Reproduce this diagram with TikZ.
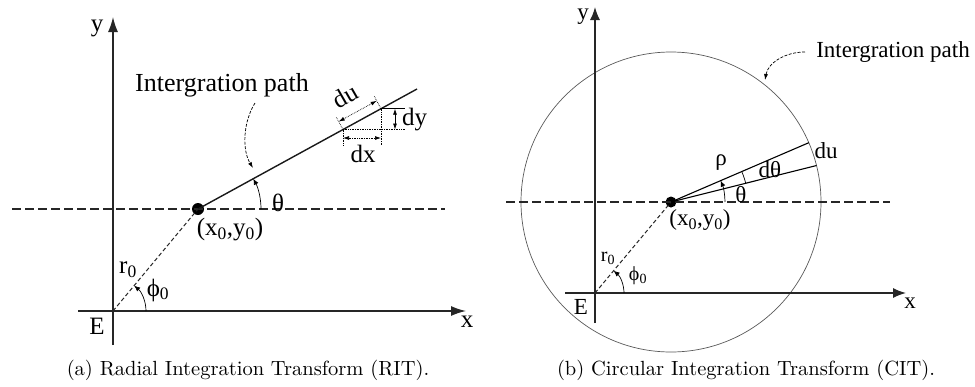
\documentclass[tikz,border=0pt]{standalone}
\usepackage{fontspec}
\newfontfamily\lab{Liberation Serif}
\usetikzlibrary{arrows.meta,calc}
\begin{document}
\begin{tikzpicture}[x=1pt,y=-1pt,
  ax/.style={line width=1.4pt, draw=black!85, -{Latex[length=15pt,width=10pt]}},
  hd/.style={line width=1.1pt, dash pattern=on 9pt off 4pt, draw=black!85},
  rd/.style={line width=1pt, dash pattern=on 4pt off 2.5pt, draw=black!85},
  pathline/.style={line width=1.4pt, draw=black!90},
  smallarr/.style={-{Latex[length=6pt,width=5pt]}, line width=0.7pt},
  dimarr/.style={{Latex[length=6pt,width=4pt]}-{Latex[length=6pt,width=4pt]}, line width=0.7pt, densely dotted},
  ext/.style={line width=0.7pt, densely dotted},
  curv/.style={-{Latex[length=6pt,width=4pt]}, line width=0.7pt, dash pattern=on 3pt off 1.5pt},
  circ/.style={line width=0.7pt, draw=black!65},
  labA/.style={font=\lab\fontsize{25}{28}\selectfont, inner sep=0},
  labB/.style={font=\lab\fontsize{23}{26}\selectfont, inner sep=0},
  labS/.style={font=\lab\fontsize{20}{22}\selectfont, inner sep=0},
  captxt/.style={font=\normalsize, inner sep=0, scale=2.05, transform shape},
  dot/.style={circle, fill=black, inner sep=0, minimum size=12pt},
]
\useasboundingbox (0,0) rectangle (975,386);

% ---------------- Left panel (RIT) ----------------
\coordinate (E1) at (113,311);
\coordinate (Y1b) at (113,345);
\coordinate (Y1t) at (113,17);
\coordinate (X1l) at (78,311);
\coordinate (X1r) at (466,311);
\coordinate (H1l) at (12,209);
\coordinate (H1r) at (445,209);
\node[dot] (P1) at (198,209) {};
\coordinate (Q1) at (417,89);
\coordinate (A1) at (343,129.5);
\coordinate (B1) at (381,108.7);

\draw[ax] (Y1b) -- (Y1t);
\draw[ax] (X1l) -- (X1r);
\draw[hd] (H1l) -- (H1r);
\draw[rd] (E1) -- (P1.center);
\draw[pathline] (P1.center) -- (Q1);

\draw[smallarr] ($(P1.center)+(63,0)$) arc[start angle=0, end angle=-28.7, radius=63];
\draw[smallarr] ($(E1)+(33,0)$) arc[start angle=0, end angle=-50.2, radius=33];

% du
\coordinate (A1e) at (336.3,117.2);
\coordinate (B1e) at (374.3,96.4);
\coordinate (A1d) at (338.7,121.6);
\coordinate (B1d) at (376.7,100.8);
\draw[ext] (A1) -- (A1e);
\draw[ext] (B1) -- (B1e);
\draw[dimarr] (A1d) -- (B1d);
% dx
\coordinate (DXr) at (405,129.5);
\coordinate (A1v) at (343,146);
\coordinate (B1v) at (381,146);
\coordinate (DXa) at (343,138);
\coordinate (DXb) at (381,138);
\draw[ext] (A1) -- (DXr);
\draw[ext] (A1) -- (A1v);
\draw[ext] (B1) -- (B1v);
\draw[dimarr] (DXa) -- (DXb);
% dy
\coordinate (DYr) at (405,108.7);
\coordinate (DYa) at (395,108.7);
\coordinate (DYb) at (395,129.5);
\draw[line width=0.9pt] (B1) -- (DYr);
\draw[dimarr, solid] (DYa) -- (DYb);

% curved pointer
\coordinate (C1s) at (255,103);
\coordinate (C1e) at (253,168);
\draw[curv] (C1s) .. controls (243,122) and (242,150) .. (C1e);

\node[labA] (ly1) at (97,28) {y};
\node[labA] (lx1) at (467,322) {x};
\node[labA] (lE1) at (97,326) {E};
\node[labA] (lth1) at (278,203) {θ};
\node[labA] (lxy1) at (230,230) {(x\textsubscript{0},y\textsubscript{0})};
\node[labA] (lr1) at (128,270) {r\textsubscript{0}};
\node[labA] (lphi1) at (158,290) {\symbol{"03D5}\textsubscript{0}};
\node[labA, font=\lab\fontsize{26}{28}\selectfont] (lip1) at (222,85) {Intergration path};
\node[labA] (ldx) at (363,154) {dx};
\node[labA, anchor=west] (ldy) at (402,120) {dy};
\node[labA, rotate=30] (ldu) at (345,96) {du};
\node[captxt] (cap1) at (248,370) {(a) Radial Integration Transform (RIT).};

% ---------------- Right panel (CIT) ----------------
\coordinate (E2) at (595,293);
\coordinate (Y2b) at (595,323);
\coordinate (Y2t) at (595,7);
\coordinate (X2l) at (565,293);
\coordinate (X2r) at (906,293);
\coordinate (H2l) at (506,202);
\coordinate (H2r) at (890,202);
\node[dot, minimum size=11pt] (P2) at (671,202) {};
\coordinate (U2) at (808.8,142.7);
\coordinate (L2) at (816.5,165.5);
\coordinate (DT2) at (745.7,183.2);

\draw[circ] (P2.center) circle[radius=150];
\draw[ax, -{Latex[length=13pt,width=10pt]}] (Y2b) -- (Y2t);
\draw[ax, -{Latex[length=13pt,width=10pt]}] (X2l) -- (X2r);
\draw[hd] (H2l) -- (H2r);
\draw[rd] (E2) -- (P2.center);
\draw[line width=1.1pt] (P2.center) -- (U2);
\draw[line width=1.1pt] (P2.center) -- (L2);
\draw[line width=0.7pt] (DT2) arc[start angle=-14.1, end angle=-23.3, radius=77];
\draw[smallarr] ($(P2.center)+(54,0)$) arc[start angle=0, end angle=-23.3, radius=54];
\draw[smallarr] ($(E2)+(29,0)$) arc[start angle=0, end angle=-50.1, radius=29];

\coordinate (C2s) at (805,52);
\coordinate (C2e) at (765,80);
\draw[curv] (C2s) .. controls (785,52) and (768,63) .. (C2e);

\node[labB] (ly2) at (583,17) {y};
\node[labB] (lx2) at (910,303) {x};
\node[labB] (lE2) at (581,307) {E};
\node[labB] (lrho) at (721,163) {ρ};
\node[labB] (ldth) at (770,170) {dθ};
\node[labB] (lth2) at (741,195) {θ};
\node[labB] (lxy2) at (700,220) {(x\textsubscript{0},y\textsubscript{0})};
\node[labS] (lr2) at (608,258) {r\textsubscript{0}};
\node[labS] (lphi2) at (638,276) {\symbol{"03D5}\textsubscript{0}};
\node[labB] (ldu2) at (826,151) {du};
\node[labB] (lip2) at (893,52) {Intergration path};
\node[captxt] (cap2) at (746,370) {(b) Circular Integration Transform (CIT).};
\end{tikzpicture}
\end{document}
